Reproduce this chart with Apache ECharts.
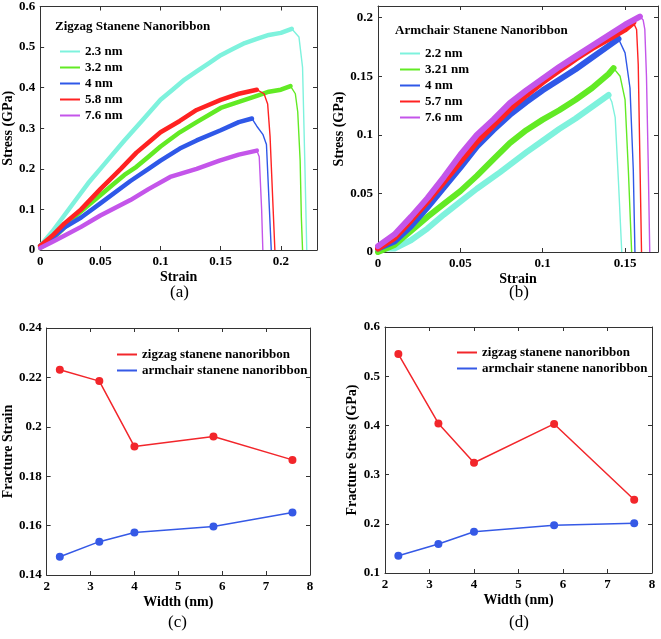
<!DOCTYPE html>
<html>
<head>
<meta charset="utf-8">
<title>Stanene nanoribbon stress-strain</title>
<script src="https://cdn.jsdelivr.net/npm/echarts@6/dist/echarts.min.js"></script>
<style>
  html, body { margin: 0; padding: 0; background: #fff; }
  #chart { width: 661px; height: 639px; }
</style>
</head>
<body>
<div id="chart"></div>
<script>
// ---- (a) zigzag stress-strain curves ----
const zz23Strain = [0, 0.01, 0.02, 0.03, 0.04, 0.05, 0.06, 0.07, 0.085, 0.1, 0.11, 0.12, 0.13, 0.14, 0.15, 0.16, 0.17, 0.18, 0.19, 0.2, 0.209, 0.215, 0.218, 0.22, 0.2215];
const zz23Stress = [0.01, 0.045, 0.085, 0.125, 0.165, 0.2, 0.235, 0.27, 0.32, 0.37, 0.395, 0.42, 0.44, 0.46, 0.48, 0.495, 0.51, 0.52, 0.53, 0.535, 0.545, 0.525, 0.45, 0.2, 0];
const zz32Strain = [0, 0.008, 0.02, 0.03, 0.04, 0.05, 0.06, 0.07, 0.08, 0.09, 0.1, 0.116, 0.13, 0.15, 0.165, 0.18, 0.19, 0.2, 0.208, 0.212, 0.214, 0.216, 0.217, 0.218];
const zz32Stress = [0.005, 0.02, 0.055, 0.085, 0.11, 0.135, 0.16, 0.185, 0.205, 0.23, 0.255, 0.29, 0.315, 0.35, 0.365, 0.38, 0.39, 0.395, 0.404, 0.385, 0.34, 0.22, 0.08, 0];
const zz4Strain = [0, 0.01, 0.02, 0.034, 0.05, 0.075, 0.09, 0.1, 0.116, 0.13, 0.15, 0.165, 0.176, 0.18, 0.185, 0.188, 0.19, 0.192];
const zz4Stress = [0.01, 0.03, 0.055, 0.08, 0.115, 0.17, 0.2, 0.22, 0.25, 0.27, 0.295, 0.315, 0.324, 0.305, 0.285, 0.26, 0.13, 0];
const zz58Strain = [0, 0.01, 0.02, 0.034, 0.05, 0.067, 0.08, 0.09, 0.1, 0.116, 0.13, 0.15, 0.165, 0.18, 0.186, 0.189, 0.191, 0.193, 0.195];
const zz58Stress = [0.01, 0.035, 0.065, 0.1, 0.15, 0.2, 0.24, 0.265, 0.29, 0.318, 0.345, 0.37, 0.385, 0.395, 0.385, 0.36, 0.28, 0.14, 0];
const zz76Strain = [0, 0.01, 0.02, 0.034, 0.05, 0.075, 0.09, 0.108, 0.13, 0.149, 0.165, 0.18, 0.182, 0.184, 0.185];
const zz76Stress = [0.005, 0.02, 0.035, 0.057, 0.085, 0.123, 0.15, 0.18, 0.2, 0.22, 0.235, 0.245, 0.23, 0.1, 0];

// ---- (b) armchair stress-strain curves ----
const ac22Strain = [0, 0.01, 0.02, 0.03, 0.04, 0.05, 0.06, 0.074, 0.09, 0.1, 0.11, 0.12, 0.13, 0.14, 0.142, 0.144, 0.146, 0.148];
const ac22Stress = [0.003, 0.003, 0.01, 0.02, 0.032, 0.043, 0.054, 0.068, 0.085, 0.095, 0.105, 0.114, 0.124, 0.134, 0.128, 0.115, 0.06, 0];
const ac321Strain = [0, 0.01, 0.02, 0.03, 0.04, 0.05, 0.06, 0.07, 0.08, 0.09, 0.1, 0.11, 0.12, 0.13, 0.14, 0.143, 0.147, 0.15, 0.152, 0.154];
const ac321Stress = [0, 0.006, 0.018, 0.03, 0.041, 0.052, 0.065, 0.079, 0.093, 0.104, 0.113, 0.121, 0.13, 0.14, 0.152, 0.157, 0.15, 0.13, 0.07, 0];
const ac4Strain = [0, 0.01, 0.02, 0.03, 0.04, 0.05, 0.06, 0.07, 0.08, 0.09, 0.1, 0.11, 0.12, 0.13, 0.14, 0.146, 0.15, 0.153, 0.155, 0.156];
const ac4Stress = [0.003, 0.009, 0.022, 0.038, 0.055, 0.072, 0.09, 0.104, 0.117, 0.128, 0.138, 0.147, 0.156, 0.166, 0.176, 0.182, 0.17, 0.14, 0.07, 0];
const ac57Strain = [0, 0.01, 0.02, 0.03, 0.04, 0.05, 0.06, 0.07, 0.08, 0.09, 0.1, 0.11, 0.12, 0.13, 0.14, 0.15, 0.155, 0.157, 0.158, 0.159, 0.16];
const ac57Stress = [0.003, 0.012, 0.027, 0.043, 0.06, 0.077, 0.094, 0.108, 0.122, 0.134, 0.145, 0.155, 0.165, 0.174, 0.182, 0.19, 0.196, 0.19, 0.16, 0.08, 0];
const ac76Strain = [0, 0.01, 0.02, 0.03, 0.04, 0.05, 0.06, 0.07, 0.08, 0.09, 0.1, 0.11, 0.12, 0.13, 0.14, 0.15, 0.159, 0.161, 0.162, 0.163, 0.164, 0.165];
const ac76Stress = [0.005, 0.015, 0.03, 0.046, 0.064, 0.083, 0.1, 0.113, 0.127, 0.138, 0.148, 0.158, 0.167, 0.176, 0.185, 0.194, 0.201, 0.198, 0.19, 0.15, 0.08, 0];

// ---- (c), (d) fracture values vs width ----
const widths = [2.3, 3.2, 4, 5.8, 7.6];
const zzFractureStrain = [0.2231, 0.2185, 0.192, 0.1961, 0.1866];
const acFractureStrain = [0.1474, 0.1535, 0.1572, 0.1596, 0.1653];
const zzFractureStress = [0.545, 0.404, 0.324, 0.403, 0.249];
const acFractureStress = [0.135, 0.159, 0.184, 0.197, 0.201];

const FONT = '"Liberation Serif", "Times New Roman", serif';
const AXIS_COLOR = '#333';
const COLORS = {
  cyan: '#7ef2dd',
  green: '#62ea24',
  blue: '#2f58e8',
  red: '#ff2222',
  purple: '#c455ea',
};

const grids = [
  { left: 38, top: 6, width: 279, height: 244 },   // a
  { left: 378, top: 6, width: 280, height: 246 },  // b
  { left: 44, top: 328, width: 266, height: 247 }, // c
  { left: 385, top: 327, width: 267, height: 246 }, // d
];

// main axis + a mirrored one so the box gets ticks on all four sides
function xAxes(grid, min, max, interval, name, showMax) {
  const base = {
    type: 'value', gridIndex: grid, min, max, interval,
    axisLine: { show: true, onZero: false, lineStyle: { color: AXIS_COLOR, width: 1 } },
    axisTick: { show: true, inside: true, length: 4, lineStyle: { color: AXIS_COLOR } },
    splitLine: { show: false },
  };
  return [
    Object.assign({}, base, {
      position: 'bottom',
      name, nameLocation: 'middle', nameGap: 20,
      nameTextStyle: { fontFamily: FONT, fontWeight: 'bold', fontSize: 14, color: '#000' },
      axisLabel: { fontFamily: FONT, fontWeight: 'bold', fontSize: 13, color: '#000', margin: 5, showMaxLabel: showMax },
    }),
    Object.assign({}, base, { position: 'top', axisLabel: { show: false } }),
  ];
}

function yAxes(grid, min, max, interval, name, nameGap, showMax) {
  const base = {
    type: 'value', gridIndex: grid, min, max, interval,
    axisLine: { show: true, onZero: false, lineStyle: { color: AXIS_COLOR, width: 1 } },
    axisTick: { show: true, inside: true, length: 4, lineStyle: { color: AXIS_COLOR } },
    splitLine: { show: false },
  };
  return [
    Object.assign({}, base, {
      position: 'left',
      name, nameLocation: 'middle', nameGap,
      nameTextStyle: { fontFamily: FONT, fontWeight: 'bold', fontSize: 14, color: '#000' },
      axisLabel: { fontFamily: FONT, fontWeight: 'bold', fontSize: 13, color: '#000', margin: 5, showMaxLabel: showMax },
    }),
    Object.assign({}, base, { position: 'right', axisLabel: { show: false } }),
  ];
}

// noisy MD curve: thick band up to the peak, thin line for the drop
function curve(name, strain, stress, color, axis, band) {
  const pts = strain.map((s, i) => [s, stress[i]]);
  const peak = stress.indexOf(Math.max(...stress));
  return [
    {
      name, type: 'line', xAxisIndex: axis, yAxisIndex: axis, data: pts,
      symbol: 'none', lineStyle: { color, width: 1.4 }, itemStyle: { color },
    },
    {
      name, type: 'line', xAxisIndex: axis, yAxisIndex: axis, data: pts.slice(0, peak + 1),
      symbol: 'none', lineStyle: { color, width: band, join: 'round', cap: 'round' }, itemStyle: { color },
    },
  ];
}

function markerLine(name, xs, ys, color, axis) {
  return {
    name, type: 'line', xAxisIndex: axis, yAxisIndex: axis,
    data: xs.map((x, i) => [x, ys[i]]),
    symbol: 'circle', symbolSize: 8,
    lineStyle: { color, width: 1.5 }, itemStyle: { color },
  };
}

function legend(left, top, names) {
  return {
    left, top, orient: 'vertical', data: names,
    icon: 'rect', itemWidth: 20, itemHeight: 2, itemGap: 3,
    formatter: (n) => n.split('|')[1],
    textStyle: { fontFamily: FONT, fontWeight: 'bold', fontSize: 13, color: '#000', lineHeight: 13 },
    selectedMode: false,
  };
}

// plain text blocks (legend headings, panel letters)
function caption(text, left, top, size, weight) {
  return {
    text, left, top, padding: 0,
    textStyle: { fontFamily: FONT, fontSize: size, fontWeight: weight, color: '#000' },
  };
}

const aNames = ['a|2.3 nm', 'a|3.2 nm', 'a|4 nm', 'a|5.8 nm', 'a|7.6 nm'];
const bNames = ['b|2.2 nm', 'b|3.21 nm', 'b|4 nm', 'b|5.7 nm', 'b|7.6 nm'];
const cNames = ['c|zigzag stanene nanoribbon', 'c|armchair stanene nanoribbon'];
const dNames = ['d|zigzag stanene nanoribbon', 'd|armchair stanene nanoribbon'];

const series = [].concat(
  curve(aNames[0], zz23Strain, zz23Stress, COLORS.cyan, 0, 4.5),
  curve(aNames[1], zz32Strain, zz32Stress, COLORS.green, 0, 4.5),
  curve(aNames[2], zz4Strain, zz4Stress, COLORS.blue, 0, 4.5),
  curve(aNames[3], zz58Strain, zz58Stress, COLORS.red, 0, 4.5),
  curve(aNames[4], zz76Strain, zz76Stress, COLORS.purple, 0, 4.5),
  curve(bNames[0], ac22Strain, ac22Stress, COLORS.cyan, 2, 6),
  curve(bNames[1], ac321Strain, ac321Stress, COLORS.green, 2, 6),
  curve(bNames[2], ac4Strain, ac4Stress, COLORS.blue, 2, 6),
  curve(bNames[3], ac57Strain, ac57Stress, COLORS.red, 2, 6),
  curve(bNames[4], ac76Strain, ac76Stress, COLORS.purple, 2, 6),
  [
    markerLine(cNames[0], widths, zzFractureStrain, '#f2262b', 4),
    markerLine(cNames[1], widths, acFractureStrain, '#3559e6', 4),
    markerLine(dNames[0], widths, zzFractureStress, '#f2262b', 6),
    markerLine(dNames[1], widths, acFractureStress, '#3559e6', 6),
  ]
);

const option = {
  backgroundColor: '#fff',
  animation: false,
  title: [
    caption('Zigzag Stanene Nanoribbon', 55, 20, 13, 'bold'),
    caption('Armchair Stanene Nanoribbon', 395, 24, 13, 'bold'),
    caption('(a)', 170, 284, 17, 'normal'),
    caption('(b)', 509, 284, 17, 'normal'),
    caption('(c)', 168, 614, 17, 'normal'),
    caption('(d)', 509, 614, 17, 'normal'),
  ],
  grid: grids,
  xAxis: [].concat(
    xAxes(0, 0, 0.23, 0.05, 'Strain', false),
    xAxes(1, 0, 0.17, 0.05, 'Strain', false),
    xAxes(2, 2, 8, 1, 'Width (nm)', true),
    xAxes(3, 2, 8, 1, 'Width (nm)', true)
  ),
  yAxis: [].concat(
    yAxes(0, 0, 0.6, 0.1, 'Stress (GPa)', 22, true),
    yAxes(1, 0, 0.21, 0.05, 'Stress (GPa)', 28, false),
    yAxes(2, 0.14, 0.24, 0.02, 'Fracture Strain', 29, true),
    yAxes(3, 0.1, 0.6, 0.1, 'Fracture Stress (GPa)', 23, true)
  ),
  legend: [
    legend(55, 40, aNames),
    legend(395, 42, bNames),
    legend(112, 343, cNames),
    legend(452, 341, dNames),
  ],
  series,
};

const chart = echarts.init(document.getElementById('chart'));
chart.setOption(option);
</script>
</body>
</html>
